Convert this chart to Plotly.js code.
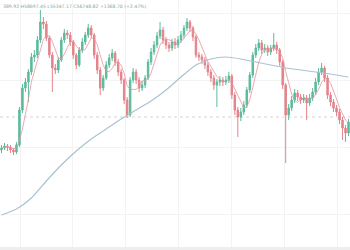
<!DOCTYPE html>
<html>
<head>
<meta charset="utf-8">
<script src="https://cdn.plot.ly/plotly-3.0.1.min.js"></script>
<style>html,body{margin:0;padding:0;background:#fff;}#chart{width:350px;height:250px;}</style>
</head>
<body>
<div id="chart"></div>
<script>
// Candle data (price units)
const openV  = [100,102,104,103,100,98,105,140,162,168,178,193,195,210,228,226,212,195,182,180,190,210,217,215,208,195,185,200,208,215,222,215,195,180,162,172,185,192,197,188,178,170,150,135,170,178,170,162,165,172,188,198,205,214,220,210,205,202,208,205,210,215,222,228,222,213,195,193,190,185,178,172,165,168,170,168,170,174,155,140,133,138,145,160,175,195,202,207,200,202,198,202,205,200,188,165,135,142,150,157,153,150,152,147,152,158,168,178,182,172,155,148,142,138,130,122,117];
const highV  = [105,107,106,105,102,108,143,166,172,181,197,200,214,240,233,229,214,198,186,193,213,221,220,218,210,197,203,212,218,226,225,217,198,183,175,189,196,201,199,191,181,172,153,173,182,181,173,169,175,191,202,209,218,228,223,213,208,211,212,214,219,225,232,230,224,215,198,196,193,188,181,175,171,174,173,174,178,176,158,143,142,149,163,178,198,206,211,210,206,205,205,217,208,202,190,167,146,154,161,160,156,156,155,156,162,172,182,187,184,175,158,151,145,141,133,125,131];
const lowV   = [97,100,99,97,95,96,103,137,158,148,175,188,192,207,221,209,192,158,176,177,188,207,211,204,191,181,183,197,205,212,212,191,176,155,159,170,182,189,184,174,166,146,132,133,167,166,158,159,162,170,185,195,202,211,206,201,198,199,201,202,207,212,219,218,209,192,189,186,181,174,168,160,143,164,164,165,167,151,135,113,129,135,142,157,172,192,199,196,197,194,195,199,196,184,161,87,130,139,147,149,146,147,130,144,149,155,165,175,168,151,144,138,134,126,110,108,114];
const closeV = [102,104,103,100,98,105,140,162,168,178,193,195,210,228,226,212,195,182,180,190,210,217,215,208,195,185,200,208,215,222,215,195,180,162,172,185,192,197,188,178,170,150,135,170,178,170,162,165,172,188,198,205,214,220,210,205,202,208,205,210,215,222,228,222,213,195,193,190,185,178,172,165,168,170,168,170,174,155,140,133,138,145,160,175,195,202,207,200,202,198,202,205,200,188,165,135,142,150,157,153,150,152,147,152,158,168,178,182,172,155,148,142,138,130,122,117,128];

// Long moving average, read at sampled candle indices
const maIdx = [0,5,10,15,20,25,30,35,40,45,50,55,60,65,70,75,80,85,90,95,100,105,110,116];
const maVal = [35,41,52,69,85,99,111,121,131,140,149,160,173,185,191,193,191,188,185,182,180,178,176,173];

// Price line level
const priceLine = 133;

// Header text (as visible in the picture)
const headerText = "389.92 H58697.45 L55347.17 C56748.82 +1368.70 (+2.47%)";

const idx = closeV.map((_, i) => i);

// short moving average of the closes (5 periods, partial at start)
const sma = closeV.map((_, i) => {
  const s = Math.max(0, i - 4);
  const w = closeV.slice(s, i + 1);
  return w.reduce((a, b) => a + b, 0) / w.length;
});

const traces = [
  {
    type: 'scatter', mode: 'lines', x: maIdx, y: maVal,
    line: {color: '#a9c3d1', width: 1.2, shape: 'spline', smoothing: 0.6},
    hoverinfo: 'skip'
  },
  {
    type: 'candlestick', x: idx, open: openV, high: highV, low: lowV, close: closeV,
    increasing: {line: {color: '#5bbb9c', width: 1}, fillcolor: '#5bbb9c'},
    decreasing: {line: {color: '#e4838a', width: 1}, fillcolor: '#e4838a'},
    whiskerwidth: 0
  },
  {
    type: 'scatter', mode: 'lines', x: idx, y: sma,
    line: {color: '#e893a0', width: 0.8},
    hoverinfo: 'skip'
  }
];

const layout = {
  width: 350, height: 250,
  margin: {l: 0, r: 0, t: 0, b: 0},
  paper_bgcolor: '#ffffff', plot_bgcolor: '#ffffff',
  showlegend: false,
  xaxis: {
    range: [-0.5, 116.5], rangeslider: {visible: false},
    showticklabels: false, zeroline: false,
    showgrid: true, gridcolor: '#f3f3f3', gridwidth: 1,
    tick0: 6.2, dtick: 17.7, ticks: ''
  },
  yaxis: {
    range: [0, 250], showticklabels: false, zeroline: false,
    showgrid: true, gridcolor: '#f3f3f3', gridwidth: 1,
    tick0: 36, dtick: 67, ticks: ''
  },
  shapes: [
    {type: 'line', xref: 'paper', x0: 0, x1: 1, yref: 'y', y0: priceLine, y1: priceLine,
     line: {color: '#d4d4d4', width: 1, dash: 'dot'}, layer: 'below'},
    {type: 'rect', xref: 'paper', x0: 0, x1: 1, yref: 'paper', y0: 0, y1: 0.012,
     fillcolor: '#eeeeee', line: {width: 0}}
  ],
  annotations: [
    {xref: 'paper', yref: 'paper', x: 0, y: 1, xanchor: 'left', yanchor: 'top',
     xshift: 1, yshift: -2, showarrow: false, text: headerText,
     font: {family: 'DejaVu Sans', size: 4.6, color: '#7fa397'}}
  ]
};

Plotly.newPlot('chart', traces, layout, {staticPlot: true, displayModeBar: false});
</script>
</body>
</html>
